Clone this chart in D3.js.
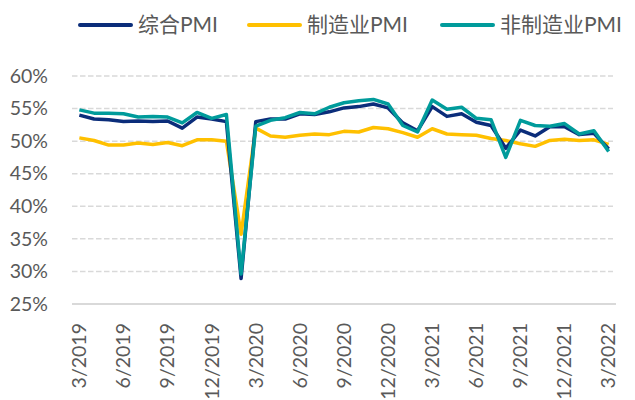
<!DOCTYPE html>
<html>
<head>
<meta charset="utf-8">
<script src="https://cdn.jsdelivr.net/npm/d3@7"></script>
<style>
    body { margin: 0; background: #fff; }
    text { font-family: Lato, "Noto Sans CJK SC", sans-serif; fill: #595959; }
</style>
</head>
<body>
<div id="viz"></div>
<script>
const domID = "#viz"

// months 3/2019 .. 3/2022
const months = ["3/2019", "4/2019", "5/2019", "6/2019", "7/2019", "8/2019", "9/2019", "10/2019", "11/2019", "12/2019",
    "1/2020", "2/2020", "3/2020", "4/2020", "5/2020", "6/2020", "7/2020", "8/2020", "9/2020", "10/2020", "11/2020", "12/2020",
    "1/2021", "2/2021", "3/2021", "4/2021", "5/2021", "6/2021", "7/2021", "8/2021", "9/2021", "10/2021", "11/2021", "12/2021",
    "1/2022", "2/2022", "3/2022"]

const compositePMI = [54.0, 53.4, 53.3, 53.0, 53.1, 53.0, 53.1, 52.0, 53.7, 53.4,
    53.0, 28.9, 53.0, 53.4, 53.4, 54.2, 54.1, 54.5, 55.1, 55.3, 55.7, 55.1,
    52.8, 51.6, 55.3, 53.8, 54.2, 52.9, 52.4, 48.9, 51.7, 50.8, 52.2, 52.2,
    51.0, 51.2, 48.8]

const manufacturingPMI = [50.5, 50.1, 49.4, 49.4, 49.7, 49.5, 49.8, 49.3, 50.2, 50.2,
    50.0, 35.7, 52.0, 50.8, 50.6, 50.9, 51.1, 51.0, 51.5, 51.4, 52.1, 51.9,
    51.3, 50.6, 51.9, 51.1, 51.0, 50.9, 50.4, 50.1, 49.6, 49.2, 50.1, 50.3,
    50.1, 50.2, 49.5]

const nonManufacturingPMI = [54.8, 54.3, 54.3, 54.2, 53.7, 53.8, 53.7, 52.8, 54.4, 53.5,
    54.1, 29.6, 52.3, 53.2, 53.6, 54.4, 54.2, 55.2, 55.9, 56.2, 56.4, 55.7,
    52.4, 51.4, 56.3, 54.9, 55.2, 53.5, 53.3, 47.5, 53.2, 52.4, 52.3, 52.7,
    51.1, 51.6, 48.4]

const yTicks = [25, 30, 35, 40, 45, 50, 55, 60]

const seriesNames = ["综合PMI", "制造业PMI", "非制造业PMI"]

const colors = {
    composite: "#0b2d7a",
    manufacturing: "#ffc000",
    nonManufacturing: "#009b9b",
    grid: "#d9d9d9",
}

const width = 635, height = 400
const margin = { top: 76, right: 19, bottom: 96, left: 72 }

let svg = d3.select(domID)
    .append("svg")
    .attr("width", width)
    .attr("height", height)

const x = d3.scaleBand()
    .domain(months)
    .range([margin.left, width - margin.right])

const y = d3.scaleLinear()
    .domain([25, 60])
    .range([height - margin.bottom, margin.top])

// gridlines (dashed), baseline solid
svg.append("g")
    .selectAll("line")
    .data(yTicks.slice(1))
    .join("line")
    .attr("x1", margin.left)
    .attr("x2", width - margin.right - 3)
    .attr("y1", d => y(d))
    .attr("y2", d => y(d))
    .attr("stroke", colors.grid)
    .attr("stroke-width", 1.5)
    .attr("stroke-dasharray", "5.5,2.5")

svg.append("line")
    .attr("x1", margin.left)
    .attr("x2", width - margin.right)
    .attr("y1", y(25))
    .attr("y2", y(25))
    .attr("stroke", colors.grid)
    .attr("stroke-width", 2)

// y axis labels
const yAxis = d3.axisLeft(y).tickValues(yTicks).tickFormat(d => d + "%").tickSize(0).tickPadding(24)
svg.append("g")
    .attr("transform", `translate(${margin.left},0)`)
    .call(yAxis)
    .call(g => g.select(".domain").remove())
    .selectAll("text")
    .style("font-size", "19.5px")
    .style("font-family", "Lato, sans-serif")
    .attr("fill", "#595959")

// x axis labels, every third month, rotated
const xAxis = d3.axisBottom(x).tickValues(months.filter((d, i) => i % 3 === 0)).tickSize(0).tickPadding(0)
svg.append("g")
    .attr("transform", `translate(0,${y(25)})`)
    .call(xAxis)
    .call(g => g.select(".domain").remove())
    .selectAll("text")
    .style("font-size", "19.5px")
    .style("font-family", "Lato, sans-serif")
    .attr("fill", "#595959")
    .attr("text-anchor", "end")
    .attr("dy", "0.35em")
    .attr("y", 0)
    .attr("transform", "translate(0,19) rotate(-90)")

const line = d3.line()
    .x((d, i) => x(months[i]) + x.bandwidth() / 2)
    .y(d => y(d))

const series = [
    { values: manufacturingPMI, color: colors.manufacturing },
    { values: compositePMI, color: colors.composite },
    { values: nonManufacturingPMI, color: colors.nonManufacturing },
]

svg.append("g")
    .selectAll("path")
    .data(series)
    .join("path")
    .attr("d", d => line(d.values))
    .attr("fill", "none")
    .attr("stroke", d => d.color)
    .attr("stroke-width", 3.5)
    .attr("stroke-linejoin", "round")

// legend
const legendItems = [
    { name: seriesNames[0], color: colors.composite, x: 78 },
    { name: seriesNames[1], color: colors.manufacturing, x: 247 },
    { name: seriesNames[2], color: colors.nonManufacturing, x: 440 },
]
const legendY = 25
let legend = svg.append("g")
legendItems.forEach(item => {
    legend.append("line")
        .attr("x1", item.x + 2)
        .attr("x2", item.x + 53)
        .attr("y1", legendY)
        .attr("y2", legendY)
        .attr("stroke", item.color)
        .attr("stroke-width", 4)
        .attr("stroke-linecap", "round")
    legend.append("text")
        .attr("x", item.x + 60)
        .attr("y", legendY)
        .attr("dy", "0.35em")
        .style("font-size", "21px")
        .text(item.name)
})
</script>
</body>
</html>
